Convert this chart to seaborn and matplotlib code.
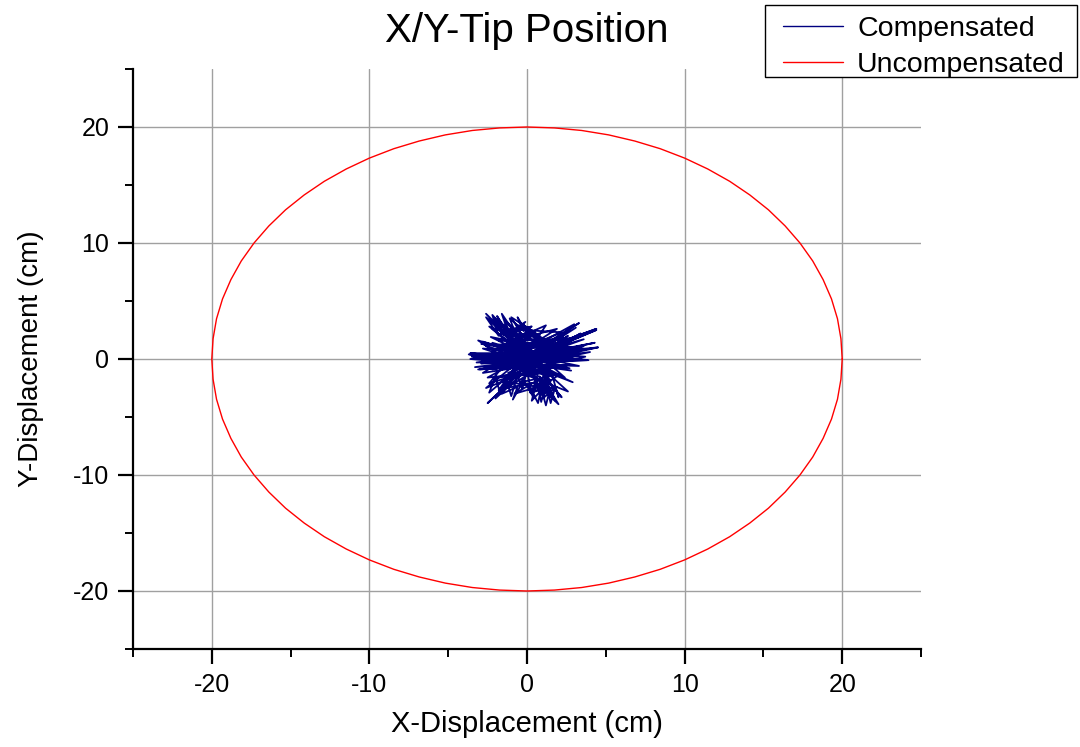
import numpy as np
import pandas as pd
import matplotlib
matplotlib.use("Agg")
import matplotlib.pyplot as plt
from matplotlib.ticker import MultipleLocator
from matplotlib.lines import Line2D
from matplotlib.patches import Rectangle
import seaborn as sns

# ---------------- data ----------------
comp_x = [0.0, 2.1, -0.4, -2.6, -0.1, 1.5, 0.3, -1.2, 0.2, 3.6,
          0.5, -2.9, -0.3, -1.8, 0.6, 2.6, 0.1, 0.9, -0.2, -3.4,
          0.4, 4.5, 0.2, -2.2, -0.5, -1.9, -1.1, -2.6, -0.8, -1.4,
          -0.2, -1.7, 0.3, -0.9, -0.1, -1.3, 0.5, -1.0, -0.3, 1.2,
          0.2, 3.0, 0.6, 4.4, 0.1, 3.2, -0.4, 2.7, 0.3, 3.5,
          -0.6, -3.7, -0.9, -2.8, -0.7, -3.1, -1.2, -2.4, -0.5, -2.5,
          -1.1, -1.6, -0.6, -0.9, -0.2, 0.4, 0.1, 0.7, 0.9, 1.2,
          1.4, 1.8, 1.1, 2.2, 0.8, 2.9, 0.5, 3.3, 0.2, 2.4,
          -2.0, 3.9, -2.7, 2.0, -1.6, 3.3, -0.8, 1.6, -1.4, 2.5,
          -2.3, 1.0, -3.3, 1.8, -1.0, 0.7, -2.1, 0.2, -1.5, 2.2,
          -0.3, -2.9, 0.9, 3.7, 0.3, -1.9, 1.3, 2.6, 0.0, -1.3,
          0.6, 0.3, 1.5, 1.0, 1.9, 0.5, 2.1, -0.4, 1.2, -2.4,
          1.7, -0.7, 0.8, -1.8, 2.9, -3.0, 1.4, 0.0, -0.6, 1.9,
          0.4, -2.2, 0.9, -1.2, 2.3, 0.0,
          -0.2, -2.4, -0.6, -2.0, 0.1, -1.6, -0.4, -2.3, 0.4, -0.7,
          1.0, -1.9, 0.3, -2.8, -0.1, 3.4, 0.5, 4.0, 0.2, 2.8,
          -0.3, 3.6, 0.0, -3.5, 0.3, -3.0, -0.5, -2.6, 0.2, 1.6,
          0.8, 1.3, 0.6, 2.0, 1.1, 0.2, 1.6, -0.8, 0.7, -1.6,
          0.1, -2.0, -0.6, 1.9, 0.4, 4.3, -0.2, 3.1, 0.6, -3.6,
          -0.1, -2.2, 0.9, 2.4, 0.1,
          -2.4, -2.0, -1.7, -1.3, -1.0, -0.6, -0.3, 0.0, 0.3, 0.6,
          0.9, 1.2, 1.5, 1.8, 2.0, 1.6,
          0.4, -2.6, -1.8, -2.2, -1.2, -1.6, -0.7, -1.1, -0.2, -0.6,
          0.2, -0.3, 0.8,
          0.0, 3.3, 0.2, 4.4, -0.1, 4.5, 0.3, 3.8, -0.2, 2.7,
          0.1, -3.6, 0.4, -3.2, -0.2, -2.8, 0.5, 2.2, -1.4, 1.1,
          -2.5, 0.7, 3.0, -0.9, 1.7, -3.1, 0.6, 2.3, -0.4]
comp_y = [0.0, 0.8, 0.3, 1.1, -0.2, -1.9, 0.4, 3.1, 0.6, 1.1,
          -0.1, -0.4, 0.2, -2.7, 0.2, 2.0, -0.4, -3.1, 0.5, 0.5,
          0.1, 1.0, -0.3, 2.6, 0.8, 3.7, 1.9, 3.9, 1.2, 3.3,
          1.5, 2.2, 2.8, 2.5, 3.2, 1.4, 2.3, 3.6, 2.0, 2.9,
          0.9, 3.0, 0.3, 2.5, 0.1, 0.3, -0.6, -0.5, -1.1, 0.9,
          -0.2, 0.4, -0.8, -1.2, 0.6, 1.6, -0.1, -2.1, -1.3, -3.8,
          -2.0, -3.0, -2.4, -3.5, -1.8, -3.3, -2.2, -3.8, -2.5, -4.0,
          -2.9, -3.6, -1.6, -3.3, -0.9, -2.0, -0.5, -0.6, 0.3, 1.4,
          0.9, -0.1, -0.3, 1.8, 1.0, 1.9, -0.4, -2.6, 0.4, 0.6,
          1.9, -0.3, -0.7, 0.2, 2.8, -1.5, 3.4, 1.1, 2.6, 2.3,
          0.9, 1.3, 0.5, 0.2, -0.8, -1.6, -1.2, -2.8, -1.4, -2.5,
          -2.0, -3.6, -1.8, -3.4, -2.4, -2.8, -1.3, -2.0, 0.7, 0.2,
          1.3, 3.0, 1.7, 1.6, 1.0, 0.0, 0.9, 2.4, 1.7, 2.6,
          1.3, -0.9, 0.0, -1.2, 0.3, 0.0,
          0.4, 2.8, 1.9, 3.5, 1.1, 2.9, 0.7, 3.2, 1.6, 2.1,
          1.8, 1.2, 0.6, 0.9, -0.3, 2.2, 0.0, 0.6, -0.5, -1.0,
          -0.2, 1.7, 0.3, 0.2, -0.6, -0.9, -0.2, -2.5, -1.0, -3.2,
          -1.5, -2.6, -2.1, -3.9, -1.9, -2.9, -1.1, -3.0, -2.4, -1.9,
          -0.8, -3.4, -1.2, 0.8, 0.4, 1.4, 0.1, 2.7, 0.5, 0.0,
          -0.4, 1.4, 0.2, -1.6, 0.0,
          -2.9, -1.5, -3.0, -1.8, -3.2, -1.4, -2.6, -1.0, -3.0, -1.6,
          -3.7, -2.0, -3.8, -2.4, -3.3, -1.4,
          0.3, 3.6, 2.0, 3.8, 2.3, 3.9, 2.1, 3.5, 2.4, 3.6,
          1.8, 3.0, 2.0,
          0.2, 3.1, 0.5, 2.6, 0.4, 1.0, 0.1, -0.1, -0.3, -0.8,
          0.0, 0.5, -0.2, -0.3, 0.3, 1.5, 0.2, 1.2, -0.7, -1.1,
          -1.6, 0.8, 0.5, 1.3, -0.5, -0.9, -0.2, 1.9, 0.6]

circle_x = [20.00, 19.92, 19.70, 19.32, 18.79, 18.13, 17.32, 16.38, 15.32, 14.14, 12.86, 11.47, 10.00, 8.45, 6.84, 5.18, 3.47, 1.74, 0.00,
            -1.74, -3.47, -5.18, -6.84, -8.45, -10.00, -11.47, -12.86, -14.14, -15.32, -16.38, -17.32, -18.13, -18.79, -19.32, -19.70, -19.92, -20.00,
            -19.92, -19.70, -19.32, -18.79, -18.13, -17.32, -16.38, -15.32, -14.14, -12.86, -11.47, -10.00, -8.45, -6.84, -5.18, -3.47, -1.74, 0.00,
            1.74, 3.47, 5.18, 6.84, 8.45, 10.00, 11.47, 12.86, 14.14, 15.32, 16.38, 17.32, 18.13, 18.79, 19.32, 19.70, 19.92, 20.00]
circle_y = [0.00, 1.74, 3.47, 5.18, 6.84, 8.45, 10.00, 11.47, 12.86, 14.14, 15.32, 16.38, 17.32, 18.13, 18.79, 19.32, 19.70, 19.92, 20.00,
            19.92, 19.70, 19.32, 18.79, 18.13, 17.32, 16.38, 15.32, 14.14, 12.86, 11.47, 10.00, 8.45, 6.84, 5.18, 3.47, 1.74, 0.00,
            -1.74, -3.47, -5.18, -6.84, -8.45, -10.00, -11.47, -12.86, -14.14, -15.32, -16.38, -17.32, -18.13, -18.79, -19.32, -19.70, -19.92, -20.00,
            -19.92, -19.70, -19.32, -18.79, -18.13, -17.32, -16.38, -15.32, -14.14, -12.86, -11.47, -10.00, -8.45, -6.84, -5.18, -3.47, -1.74, 0.00]

series_names = ["Compensated", "Uncompensated"]
series_colors = ["#000080", "#ff0000"]
tick_values = [-20, -10, 0, 10, 20]

# ---------------- figure ----------------
sns.set_theme(style="white")
plt.rcParams["font.family"] = ["Liberation Sans", "DejaVu Sans"]
plt.rcParams["axes.unicode_minus"] = False
plt.rcParams["text.color"] = "black"
plt.rcParams["axes.labelcolor"] = "black"
plt.rcParams["xtick.color"] = "black"
plt.rcParams["ytick.color"] = "black"

W, H = 1080, 747
fig = plt.figure(figsize=(W / 100, H / 100), dpi=100)
ax = fig.add_axes([133 / W, 1 - 649 / H, (921 - 133) / W, (649 - 69) / H])

df = pd.concat([
    pd.DataFrame({"x": circle_x, "y": circle_y, "series": series_names[1]}),
    pd.DataFrame({"x": comp_x, "y": comp_y, "series": series_names[0]}),
], ignore_index=True)

pal = dict(zip(series_names, series_colors))
lws = {series_names[0]: 1.3, series_names[1]: 1.0}
for name in [series_names[1], series_names[0]]:
    sub = df[df["series"] == name]
    sns.lineplot(data=sub, x="x", y="y", sort=False, estimator=None,
                 color=pal[name], linewidth=lws[name], ax=ax, legend=False,
                 zorder=3)

ax.set_xlim(-25, 25)
ax.set_ylim(-25, 25)
ax.set_xticks(tick_values)
ax.set_yticks(tick_values)
ax.xaxis.set_minor_locator(MultipleLocator(5))
ax.yaxis.set_minor_locator(MultipleLocator(5))
ax.grid(True, which="major", color="#a0a0a0", linewidth=1.0, zorder=1)
ax.set_axisbelow(True)

for s in ["top", "right"]:
    ax.spines[s].set_visible(False)
for s in ["left", "bottom"]:
    ax.spines[s].set_color("black")
    ax.spines[s].set_linewidth(1.6)

ax.tick_params(which="major", direction="out", length=11, width=1.6,
               color="black", labelsize=18, pad=6, left=True, bottom=True,
               labelcolor="black")
ax.tick_params(which="minor", direction="out", length=6, width=1.4,
               color="black", left=True, bottom=True)

ax.set_xlabel("X-Displacement (cm)", fontsize=21, labelpad=10, color="black")
ax.set_ylabel("Y-Displacement (cm)", fontsize=20, labelpad=21, color="black")
fig.text(0.488, 0.958, "X/Y-Tip Position", ha="center", va="center",
         fontsize=29, color="black")

# legend frame drawn explicitly, entries placed inside it
fig.patches.append(Rectangle((765 / W, 1 - 77 / H), (1077 - 765) / W, 72 / H,
                             transform=fig.transFigure, facecolor="white",
                             edgecolor="black", linewidth=1.0, zorder=5))
handles = [Line2D([0], [0], color=c, lw=1.0) for c in series_colors]
leg = fig.legend(handles, series_names, loc="upper left",
                 bbox_to_anchor=(783 / W, 1 - 16 / H), fontsize=20.5,
                 frameon=False, borderaxespad=0, borderpad=0,
                 handlelength=2.1, handletextpad=0.5, labelspacing=0.36)
leg.set_zorder(6)
for t in leg.get_texts():
    t.set_color("black")

fig.savefig("out.png", dpi=100)
